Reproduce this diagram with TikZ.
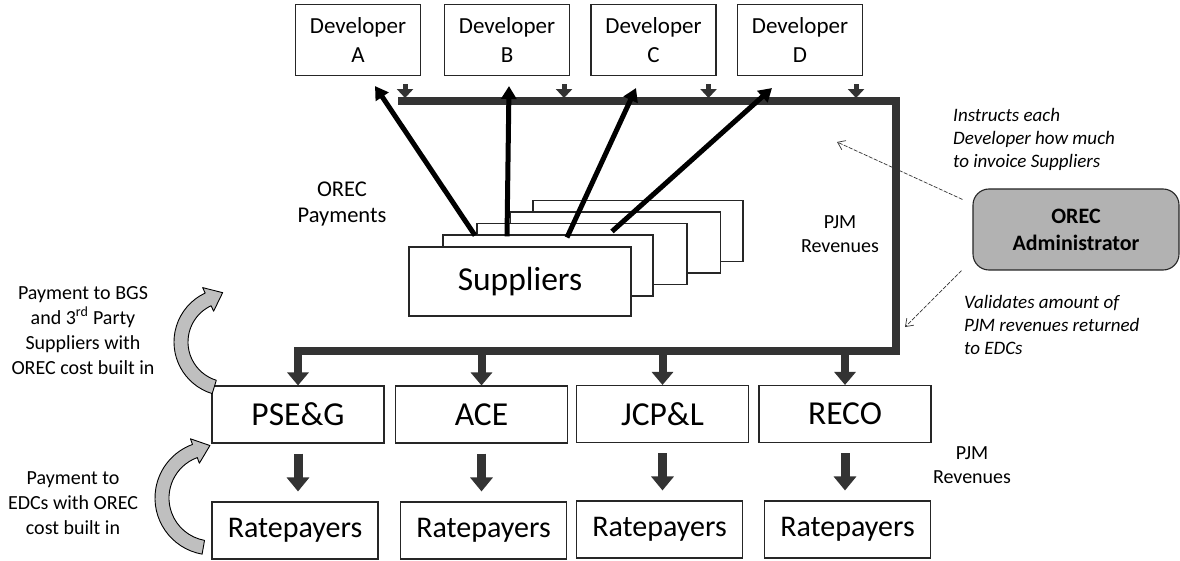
\documentclass[tikz,border=0pt]{standalone}
\usepackage{fontspec}
\setmainfont{Carlito}
\usetikzlibrary{arrows.meta,calc}
\begin{document}
\begin{tikzpicture}[x=1pt,y=-1pt,
  box/.style={draw=black!85, line width=1.1pt, fill=white, inner sep=0pt, align=center},
  dev/.style={box, minimum width=125, minimum height=71, font=\fontsize{23}{29}\selectfont},
  sup/.style={box, minimum width=210, minimum height=61},
  edc/.style={box, minimum width=172, minimum height=57, font=\fontsize{33.5}{40}\selectfont},
  rp/.style={box, minimum width=166, minimum height=57, font=\fontsize{30}{36}\selectfont},
  bus/.style={line width=8pt, draw=black!80, line join=miter},
  busarrow/.style={line width=8pt, draw=black!80, -{Triangle[width=21pt,length=13pt]}},
  rparrow/.style={line width=9pt, draw=black!80, -{Triangle[width=22pt,length=14pt]}, shorten <=10pt, shorten >=10pt},
  payarrow/.style={line width=5pt, draw=black, -{Triangle[width=15pt,length=13pt]}},
  smallarrow/.style={line width=5pt, draw=black!80, -{Triangle[width=16pt,length=9pt]}},
  admarrow/.style={line width=0.7pt, draw=black!80, dash pattern=on 4pt off 1.5pt, -{Straight Barb[length=7pt,width=10pt]}},
  curvy/.style={fill=black!25, draw=black, line width=0.9pt, line join=round},
  lbl/.style={inner sep=0pt, align=center},
  itl/.style={inner sep=0pt, align=left, font=\itshape\fontsize{19}{23}\selectfont}
]
\useasboundingbox[fill=white] (0,0) rectangle (1180,561);

% Developers
\node[dev] (devA) at (358,40) {Developer\\A};
\node[dev] (devB) at (507,40) {Developer\\B};
\node[dev] (devC) at (653.5,40) {Developer\\C};
\node[dev] (devD) at (800,40) {Developer\\D};

% Suppliers stack
\node[sup] (s5) at (638,231) {};
\node[sup] (s4) at (615.5,242.5) {};
\node[sup] (s3) at (582,254) {};
\node[sup] (s2) at (548,265.5) {};
\node[sup, minimum width=222, minimum height=69, font=\fontsize{33.5}{40}\selectfont] (s1) at (520,281.5) {Suppliers};

% EDCs
\node[edc] (pse) at (298,414.5) {PSE\&G};
\node[edc] (ace) at (481.5,414.5) {ACE};
\node[edc] (jcp) at (662.5,414) {JCP\&L};
\node[edc] (reco) at (845,414) {RECO};

% Ratepayers
\node[rp] (rp1) at (295,530.5) {Ratepayers};
\node[rp] (rp2) at (483.5,530.5) {Ratepayers};
\node[rp] (rp3) at (659.5,529.5) {Ratepayers};
\node[rp] (rp4) at (847.5,529.5) {Ratepayers};

% OREC administrator
\node[box, fill=black!30, rounded corners=16pt, minimum width=206, minimum height=81,
      font=\bfseries\fontsize{22}{27}\selectfont] (adm) at (1076,229.5) {OREC\\Administrator};

% PJM revenue bus
\coordinate (busTL) at (398,101);
\coordinate (busTR) at (896,101);
\coordinate (busBR) at (896,351);
\draw[bus] (busTL) -- (busTR) -- (busBR) -- (pse.north |- busBR) -- ([yshift=6pt]pse.north);
\draw[busarrow] (pse.north |- busBR) -- (pse.north);
\draw[busarrow] (ace.north |- busBR) -- (ace.north);
\draw[busarrow] (jcp.north |- busBR) -- (jcp.north);
\draw[busarrow] (reco.north |- busBR) -- (reco.north);

% small arrows into bus from developers
\draw[smallarrow] ($(devA.south east)+(-16,8)$) -- ($(devA.south east)+(-16,22)$);
\draw[smallarrow] ($(devB.south east)+(-6,8)$) -- ($(devB.south east)+(-6,22)$);
\draw[smallarrow] ($(devC.south east)+(-8,8)$) -- ($(devC.south east)+(-8,22)$);
\draw[smallarrow] ($(devD.south east)+(-7,8)$) -- ($(devD.south east)+(-7,22)$);

% OREC payments
\draw[payarrow] ($(s2.north)+(-73,1)$) -- ($(devA.south)+(17,10)$);
\draw[payarrow] ($(s2.north)+(-41,2)$) -- ($(devB.south)+(2,10)$);
\draw[payarrow] ($(s2.north)+(19,3)$) -- ($(devC.south)+(-17.5,12)$);
\draw[payarrow] ($(s2.north)+(64,-3)$) -- ($(devD.south)+(-28,12)$);

% EDC -> ratepayers
\draw[rparrow] (pse.south) -- (pse.south |- rp1.north);
\draw[rparrow] (ace.south) -- (ace.south |- rp2.north);
\draw[rparrow] (jcp.south) -- (jcp.south |- rp3.north);
\draw[rparrow] (reco.south) -- (reco.south |- rp4.north);

% Administrator dashed arrows
\coordinate (instrEnd) at (837,142);
\coordinate (validEnd) at (905,327);
\draw[admarrow] ($(adm.north west)+(-10,11)$) -- (instrEnd);
\draw[admarrow] ($(adm.south west)+(-11,0)$) -- (validEnd);

% curved arrows
\coordinate (C1) at (228,342);
\filldraw[curvy] ($(C1)+(107:54)$) arc[start angle=107,end angle=245,radius=54]
  -- ($(C1)+(245:60)$) -- ($(C1)+(245:47)+(335:16)$) -- ($(C1)+(245:34)$)
  -- ($(C1)+(245:40)$) arc[start angle=245,end angle=107,radius=40] -- cycle;
\coordinate (C2) at (212,498);
\filldraw[curvy] ($(C2)+(100:57)$) arc[start angle=100,end angle=250,radius=57]
  -- ($(C2)+(250:63)$) -- ($(C2)+(250:50)+(340:16)$) -- ($(C2)+(250:37)$)
  -- ($(C2)+(250:43)$) arc[start angle=250,end angle=100,radius=43] -- cycle;

% texts
\node[lbl, anchor=north, font=\fontsize{22.5}{26}\selectfont] (orecpay) at (342,182) {OREC\\Payments};
\node[lbl, anchor=north, font=\fontsize{20}{24}\selectfont] (pjm1) at (840,215) {PJM\\Revenues};
\node[lbl, anchor=north, font=\fontsize{20}{24.5}\selectfont] (pjm2) at (972,446) {PJM\\Revenues};
\node[itl, anchor=north west] (instr) at (953,108) {Instructs each\\Developer how much\\to invoice Suppliers};
\node[itl, anchor=north west] (valid) at (964,295) {Validates amount of\\PJM revenues returned\\to EDCs};
\node[lbl, anchor=north, font=\fontsize{20}{25}\selectfont] (left1) at (83,286) {Payment to BGS\\and 3\textsuperscript{rd} Party\\Suppliers with\\OREC cost built in};
\node[lbl, anchor=north, font=\fontsize{20}{25}\selectfont] (left2) at (73,471) {Payment to\\EDCs with OREC\\cost built in};
\end{tikzpicture}
\end{document}
